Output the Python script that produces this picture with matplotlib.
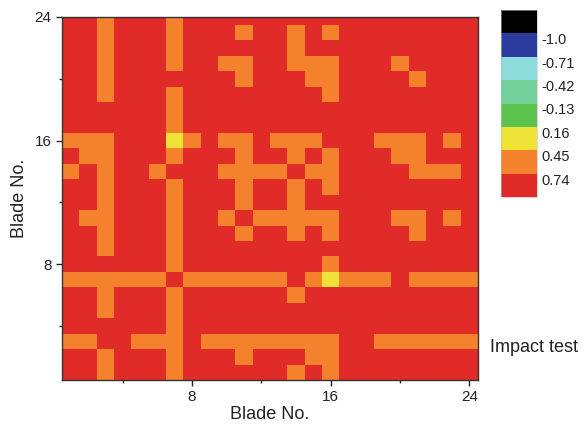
import numpy as np
import matplotlib
matplotlib.use('Agg')
import matplotlib.pyplot as plt
from matplotlib.colors import ListedColormap, BoundaryNorm
from matplotlib.cm import ScalarMappable

plt.rcParams['font.family'] = ['Liberation Sans', 'DejaVu Sans']

# blades (x) whose MAC with blade y falls in the 0.45-0.74 band; all others are above 0.74
orange_cells = {
    24: [3, 7],
    23: [3, 7, 11, 14, 16],
    22: [3, 7, 14],
    21: [3, 7, 10, 11, 14, 15, 16, 20],
    20: [3, 11, 15, 16, 21],
    19: [3, 7, 16],
    18: [7],
    17: [7],
    16: [1, 2, 3, 8, 10, 11, 13, 14, 15, 19, 20, 21, 23],
    15: [2, 3, 7, 11, 14, 16, 20, 21],
    14: [1, 3, 6, 10, 11, 12, 13, 15, 16, 21, 22, 23],
    13: [3, 7, 11, 14, 16],
    12: [3, 7, 11, 14],
    11: [2, 3, 7, 10, 12, 13, 14, 15, 16, 20, 21, 23],
    10: [3, 7, 11, 14, 16, 21],
    9: [3, 7],
    8: [7, 16],
    7: [1, 2, 3, 4, 5, 6, 8, 9, 10, 11, 12, 13, 15, 17, 18, 19, 21, 22, 23, 24],
    6: [3, 7, 14],
    5: [3, 7],
    4: [7],
    3: [1, 2, 5, 6, 7, 9, 10, 11, 12, 13, 14, 15, 16, 19, 20, 21, 22, 23, 24],
    2: [3, 7, 11, 15, 16],
    1: [3, 7, 14, 16],
}
# cells in the 0.16-0.45 band
yellow_cells = {16: [7], 7: [16]}

red_value = 0.88
orange_value = 0.60
yellow_value = 0.30

bounds = [-1.29, -1.0, -0.71, -0.42, -0.13, 0.16, 0.45, 0.74, 1.03]
tick_vals = [-1.0, -0.71, -0.42, -0.13, 0.16, 0.45, 0.74]
tick_text = ['-1.0', '-0.71', '-0.42', '-0.13', '0.16', '0.45', '0.74']
colors = ['#000000', '#2c3c9e', '#8fdcdc', '#72d29a', '#5cc34e',
          '#efe338', '#f4822c', '#e02b28']

mac = np.full((24, 24), red_value)
for yb, xs in orange_cells.items():
    for xb in xs:
        mac[yb - 1, xb - 1] = orange_value
for yb, xs in yellow_cells.items():
    for xb in xs:
        mac[yb - 1, xb - 1] = yellow_value

cmap = ListedColormap(colors)
norm = BoundaryNorm(bounds, cmap.N)

fig = plt.figure(figsize=(5.86, 4.33), dpi=100)
ax = fig.add_axes([62 / 586, 1 - 380 / 433, 416 / 586, 363 / 433])
edges = np.arange(0.5, 25.5, 1)
ax.pcolormesh(edges, edges, mac, cmap=cmap, norm=norm)
ax.set_xlim(0.5, 24.5)
ax.set_ylim(0.5, 24)

ax.set_xticks([8, 16, 24])
ax.set_yticks([8, 16, 24])
ax.set_xticks([4, 12, 20], minor=True)
ax.set_yticks([4, 12, 20], minor=True)
ax.tick_params(which='major', length=4, width=1, labelsize=11, color='#222222', labelcolor='#222222')
ax.tick_params(which='minor', length=2.5, width=1, color='#222222')
for sp in ax.spines.values():
    sp.set_color('#333333')
    sp.set_linewidth(1)
ax.set_xlabel('Blade No.', fontsize=13, color='#222222', labelpad=1)
ax.set_ylabel('Blade No.', fontsize=13, color='#222222', labelpad=5)

cax = fig.add_axes([501 / 586, 1 - 197 / 433, 36 / 586, 187 / 433])
cb = fig.colorbar(ScalarMappable(norm=norm, cmap=cmap), cax=cax,
                  boundaries=bounds, ticks=tick_vals)
cb.ax.set_yticklabels(tick_text)
cax.minorticks_off()
cax.invert_yaxis()
cax.tick_params(which='both', length=0, labelsize=10.5, pad=3, labelcolor='#222222')
for lab in cax.get_yticklabels():
    lab.set_va('top')
cb.outline.set_linewidth(0.4)
cb.outline.set_edgecolor('#bbbbbb')

fig.text(490 / 586, 1 - 348 / 433, 'Impact test', fontsize=13, va='center',
         ha='left', color='#222222')

fig.savefig('out.png', dpi=100)
